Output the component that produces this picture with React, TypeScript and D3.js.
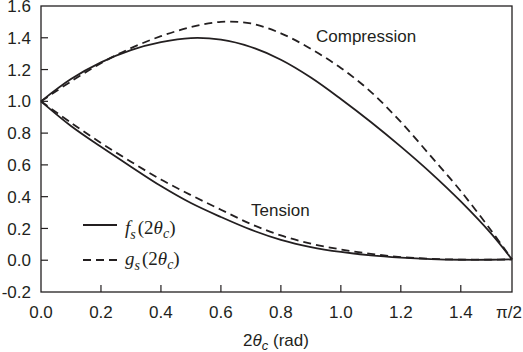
import React from "react";
import * as d3 from "d3";

const xs = [0, 0.1, 0.2, 0.3, 0.4, 0.5, 0.6, 0.7, 0.8, 0.9, 1.0, 1.1, 1.2, 1.3, 1.4, 1.5, Math.PI / 2];
const fsCompression = [1.0, 1.14, 1.245, 1.322, 1.372, 1.398, 1.388, 1.342, 1.262, 1.15, 1.015, 0.87, 0.715, 0.55, 0.37, 0.17, 0.005];
const gsCompression = [1.0, 1.125, 1.24, 1.335, 1.41, 1.467, 1.5, 1.49, 1.428, 1.33, 1.21, 1.06, 0.87, 0.655, 0.435, 0.19, 0.005];
const fsTension = [1.0, 0.845, 0.714, 0.589, 0.467, 0.36, 0.272, 0.192, 0.128, 0.083, 0.052, 0.03, 0.016, 0.007, 0.003, 0.003, 0.005];
const gsTension = [1.0, 0.865, 0.738, 0.62, 0.508, 0.41, 0.318, 0.228, 0.156, 0.104, 0.068, 0.04, 0.02, 0.009, 0.004, 0.004, 0.005];
const xTicks = [0, 0.2, 0.4, 0.6, 0.8, 1.0, 1.2, 1.4, Math.PI / 2];
const xTickLabels = ["0.0", "0.2", "0.4", "0.6", "0.8", "1.0", "1.2", "1.4", "π/2"];
const yTicks = [-0.2, 0, 0.2, 0.4, 0.6, 0.8, 1.0, 1.2, 1.4, 1.6];

const W = 523, H = 352;
const L = 41, R = 512, T = 6, B = 292;
const ink = "#231f20";
const sans = "'Liberation Sans', Arial, sans-serif";
const serif = "'Liberation Serif', 'Times New Roman', serif";

export default function App() {
  const x = d3.scaleLinear().domain([0, Math.PI / 2]).range([L, R]);
  const y = d3.scaleLinear().domain([-0.2, 1.6]).range([B, T]);
  const line = (vals: number[]) =>
    d3.line<number>().x((_, i) => x(xs[i])).y((v) => y(v)).curve(d3.curveCatmullRom.alpha(0.5))(vals) || "";
  const dash = "8,5";
  const legendItems = [
    { yv: 225, ty: 234, d: undefined as string | undefined, sym: "f" },
    { yv: 260, ty: 265, d: dash, sym: "g" },
  ];
  return (
    <svg width={W} height={H} style={{ position: "absolute", left: 0, top: 0, background: "#fff" }}>
      <rect x={L} y={T} width={R - L} height={B - T} fill="none" stroke={ink} strokeWidth={1.3} />
      {xTicks.map((t, i) => (
        <g key={"x" + i}>
          {i > 0 && i < xTicks.length - 1 && (
            <line x1={x(t)} x2={x(t)} y1={B} y2={B - 7} stroke={ink} strokeWidth={1.2} />
          )}
          <text
            x={i === xTicks.length - 1 ? 522 : x(t)}
            y={318}
            textAnchor={i === xTicks.length - 1 ? "end" : "middle"}
            fontFamily={sans}
            fontSize={17}
            fill={ink}
          >
            {xTickLabels[i]}
          </text>
        </g>
      ))}
      {yTicks.map((t, i) => (
        <g key={"y" + i}>
          {i > 0 && i < yTicks.length - 1 && (
            <line x1={L} x2={L + 7} y1={y(t)} y2={y(t)} stroke={ink} strokeWidth={1.2} />
          )}
          <text x={31} y={y(t)} dy="0.36em" textAnchor="end" fontFamily={sans} fontSize={17} fill={ink}>
            {t.toFixed(1)}
          </text>
        </g>
      ))}
      <path d={line(fsCompression)} fill="none" stroke={ink} strokeWidth={1.8} />
      <path d={line(gsCompression)} fill="none" stroke={ink} strokeWidth={1.8} strokeDasharray={dash} />
      <path d={line(fsTension)} fill="none" stroke={ink} strokeWidth={1.8} />
      <path d={line(gsTension)} fill="none" stroke={ink} strokeWidth={1.8} strokeDasharray={dash} />
      <text x={316} y={42} fontFamily={sans} fontSize={17} fill={ink}>Compression</text>
      <text x={251} y={216} fontFamily={sans} fontSize={17} fill={ink}>Tension</text>
      {legendItems.map((it, i) => (
        <g key={"lg" + i}>
          <line x1={83} x2={117} y1={it.yv} y2={it.yv} stroke={ink} strokeWidth={1.8} strokeDasharray={it.d} />
          <text x={125} y={it.ty} fontFamily={serif} fontSize={19} fill={ink}>
            <tspan fontStyle="italic">{it.sym}</tspan>
            <tspan fontStyle="italic" fontSize={14} dy={5}>s</tspan>
            <tspan dy={-5} dx={2}>(2</tspan>
            <tspan fontStyle="italic">θ</tspan>
            <tspan fontStyle="italic" fontSize={14} dy={4}>c</tspan>
            <tspan dy={-4}>)</tspan>
          </text>
        </g>
      ))}
      <text x={276} y={346} textAnchor="middle" fontFamily={sans} fontSize={17} fill={ink}>
        <tspan>2</tspan>
        <tspan fontStyle="italic">θ</tspan>
        <tspan fontStyle="italic" fontSize={13} dy={4}>c</tspan>
        <tspan dy={-4}> (rad)</tspan>
      </text>
    </svg>
  );
}
